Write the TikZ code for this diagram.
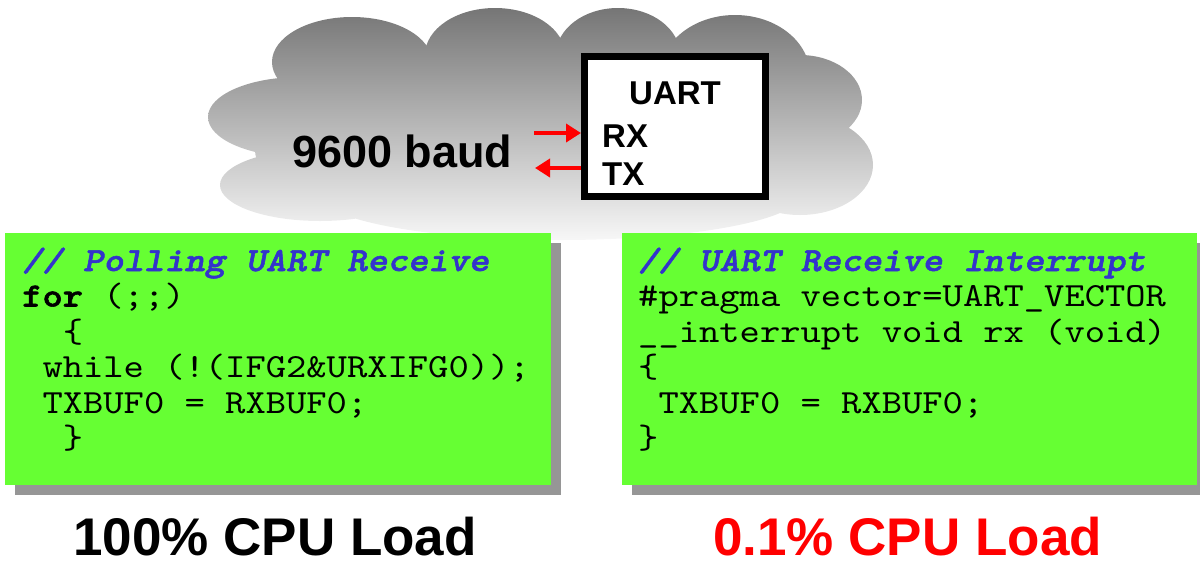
\documentclass[tikz,border=0pt]{standalone}
\usepackage{fontspec}
\setmainfont{Liberation Sans}
\newfontfamily\codefont{lmmono10-regular.otf}[
  FakeStretch=1.144,
  BoldFont=lmmonolt10-bold.otf,
  BoldFeatures={FakeBold=1.6},
  ItalicFont=lmmono10-italic.otf,
  BoldItalicFont=lmmonolt10-boldoblique.otf,
  BoldItalicFeatures={FakeBold=1.6}]
\usetikzlibrary{arrows.meta}
\definecolor{codegreen}{RGB}{102,255,51}
\definecolor{shadowgray}{RGB}{150,150,150}
\definecolor{commentblue}{RGB}{51,51,204}
\definecolor{cloudtop}{RGB}{116,116,116}
\definecolor{cloudbottom}{RGB}{247,247,247}
\tikzset{
  codeline/.style={anchor=base west, inner sep=0pt, font=\codefont\fontsize{33.8}{36}\selectfont},
  comment/.style={codeline, text=commentblue, font=\codefont\fontsize{33.8}{36}\selectfont\bfseries\itshape},
  codebox/.style={fill=codegreen, draw=none},
  boxshadow/.style={fill=shadowgray, draw=none},
  bigsans/.style={inner sep=0pt, text depth=0pt, font=\fontsize{53}{60}\selectfont\bfseries},
  portlabel/.style={inner sep=0pt, font=\fontsize{33}{40}\selectfont\bfseries},
  sig/.style={red, line width=4pt, -{Triangle[length=15pt,width=18pt]}},
}
\begin{document}
\begin{tikzpicture}[x=1pt,y=-1pt]
\useasboundingbox (0,0) rectangle (1200,563);

% cloud: union of puffs filled with a vertical grey gradient
\begin{scope}
  \clip (545,150) ellipse [x radius=290, y radius=85]
        (320,185) ellipse [x radius=100, y radius=36]
        (300,117) ellipse [x radius=92, y radius=40]
        (352,62) ellipse [x radius=80, y radius=45]
        (495,55) ellipse [x radius=70, y radius=47]
        (618,55) ellipse [x radius=62, y radius=47]
        (735,75) ellipse [x radius=75, y radius=60]
        (800,100) ellipse [x radius=62, y radius=45]
        (800,165) ellipse [x radius=73, y radius=50]
        (560,195) ellipse [x radius=240, y radius=45];
  \shade[top color=cloudtop, bottom color=cloudbottom] (190,5) rectangle (890,240);
\end{scope}

% UART block with its ports
\node[draw=black, line width=7pt, fill=white, minimum width=181pt, minimum height=140pt, inner sep=0pt] (uart) at (675,126.5) {};
\node[portlabel, anchor=base] (uartname) at (675,104) {UART};
\node[portlabel, anchor=base west] (rx) at (602,147) {RX};
\node[portlabel, anchor=base west] (tx) at (602,185) {TX};
\coordinate (rxsrc) at (534,133);
\coordinate (txdst) at (535,168);
\draw[sig] (rxsrc) -- (rxsrc -| uart.west);
\draw[sig] (txdst -| uart.west) -- (txdst);
\node[inner sep=0pt, anchor=base west, font=\fontsize{45}{50}\selectfont\bfseries] (baud) at (292,167) {9600 baud};

% polling code box
\fill[boxshadow] (15,243) rectangle (561,495);
\node[codebox, anchor=north west, minimum width=546pt, minimum height=252pt, inner sep=0pt] (poll) at (5,233) {};
\node[comment] (p1) at (22,271) {// Polling UART Receive};
\node[codeline] (p2) at (22,306.5) {\bfseries for\mdseries{} (;;)};
\node[codeline] (p3) at (62.6,342) {\{};
\node[codeline] (p4) at (42.3,377.5) {while (!(IFG2\&URXIFG0));};
\node[codeline] (p5) at (42.3,413) {TXBUF0 = RXBUF0;};
\node[codeline] (p6) at (62.6,448.5) {\}};

% interrupt code box
\fill[boxshadow] (632,243) rectangle (1210,495);
\node[codebox, anchor=north west, minimum width=575pt, minimum height=252pt, inner sep=0pt] (irq) at (622,233) {};
\node[comment] (i1) at (638,271) {// UART Receive Interrupt};
\node[codeline] (i2) at (638,306.5) {\#pragma vector=UART\_VECTOR};
\node[codeline] (i3) at (638,342) {\_\_interrupt void rx (void)};
\node[codeline] (i4) at (638,377.5) {\{};
\node[codeline] (i5) at (658.3,413) {TXBUF0 = RXBUF0;};
\node[codeline] (i6) at (638,448.5) {\}};

% CPU load captions
\node[bigsans, anchor=base west] (loadpoll) at (73,555) {100\% CPU Load};
\node[bigsans, anchor=base west, text=red] (loadirq) at (713,555) {0.1\% CPU Load};
\end{tikzpicture}
\end{document}
